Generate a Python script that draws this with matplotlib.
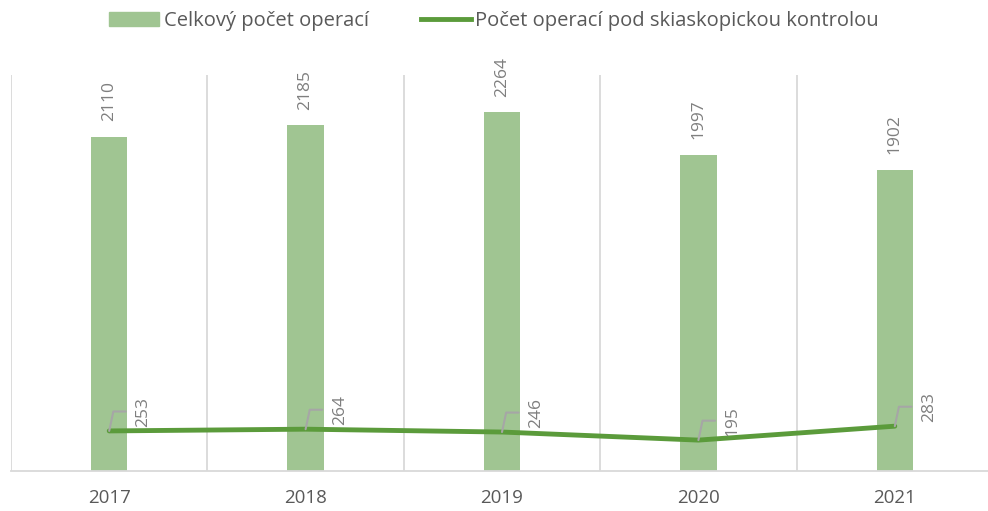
import matplotlib.pyplot as plt
from matplotlib.patches import Patch
from matplotlib.lines import Line2D

years = ['2017', '2018', '2019', '2020', '2021']
total_ops = [2110, 2185, 2264, 1997, 1902]
fluoro_ops = [253, 264, 246, 195, 283]

bar_color = '#A0C592'
line_color = '#5B9B3B'
label_color = '#7F7F7F'
grid_color = '#D9D9D9'

plt.rcParams['font.family'] = ['Open Sans', 'DejaVu Sans']

fig = plt.figure(figsize=(9.88, 5.11), dpi=100)
ax = fig.add_axes([11 / 988, 1 - 471 / 511, 977 / 988, 396 / 511])

x = list(range(len(years)))
ax.bar(x, total_ops, width=0.185, color=bar_color, zorder=2)
ax.plot(x, fluoro_ops, color=line_color, linewidth=3.5, zorder=3, solid_capstyle='round')

for xi, v in zip(x, total_ops):
    ax.annotate(str(v), (xi, v), xytext=(0, 11), textcoords='offset points',
                rotation=90, ha='center', va='bottom', color=label_color, fontsize=12.5)

for xi, v in zip(x, fluoro_ops):
    ax.annotate(str(v), (xi, v), xytext=(19, 3), textcoords='offset points',
                rotation=90, ha='left', va='bottom', color=label_color, fontsize=12.5)
    # leader line
    ax.annotate('', (xi, v), xytext=(12, 14), textcoords='offset points',
                arrowprops=dict(arrowstyle='-', color='#A6A6A6', lw=1.5,
                                connectionstyle='angle,angleA=0,angleB=78,rad=0',
                                shrinkA=0, shrinkB=0))

ax.set_xlim(-0.5, -0.5 + 977 / 196.4)
ax.set_ylim(0, 2500)
for b in [i + 0.5 for i in range(-1, len(years) - 1)]:
    ax.axvline(b, color=grid_color, lw=1.3, zorder=1)

ax.set_yticks([])
ax.set_xticks(x)
ax.set_xticklabels(years, fontsize=13.5, color='#595959')
ax.tick_params(axis='x', length=0, pad=13)
for s in ['top', 'right', 'left']:
    ax.spines[s].set_visible(False)
ax.spines['bottom'].set_color(grid_color)
ax.spines['bottom'].set_linewidth(1.3)

handles = [Patch(color=bar_color), Line2D([], [], color=line_color, lw=3.5)]
fig.legend(handles, ['Celkový počet operací', 'Počet operací pod skiaskopickou kontrolou'],
           loc='center', bbox_to_anchor=(0.5, 1 - 21 / 511), ncol=2, frameon=False,
           fontsize=14.5, handlelength=2.5, handletextpad=0.2, columnspacing=2.6,
           labelcolor='#595959')

fig.savefig('out.png', dpi=100)
